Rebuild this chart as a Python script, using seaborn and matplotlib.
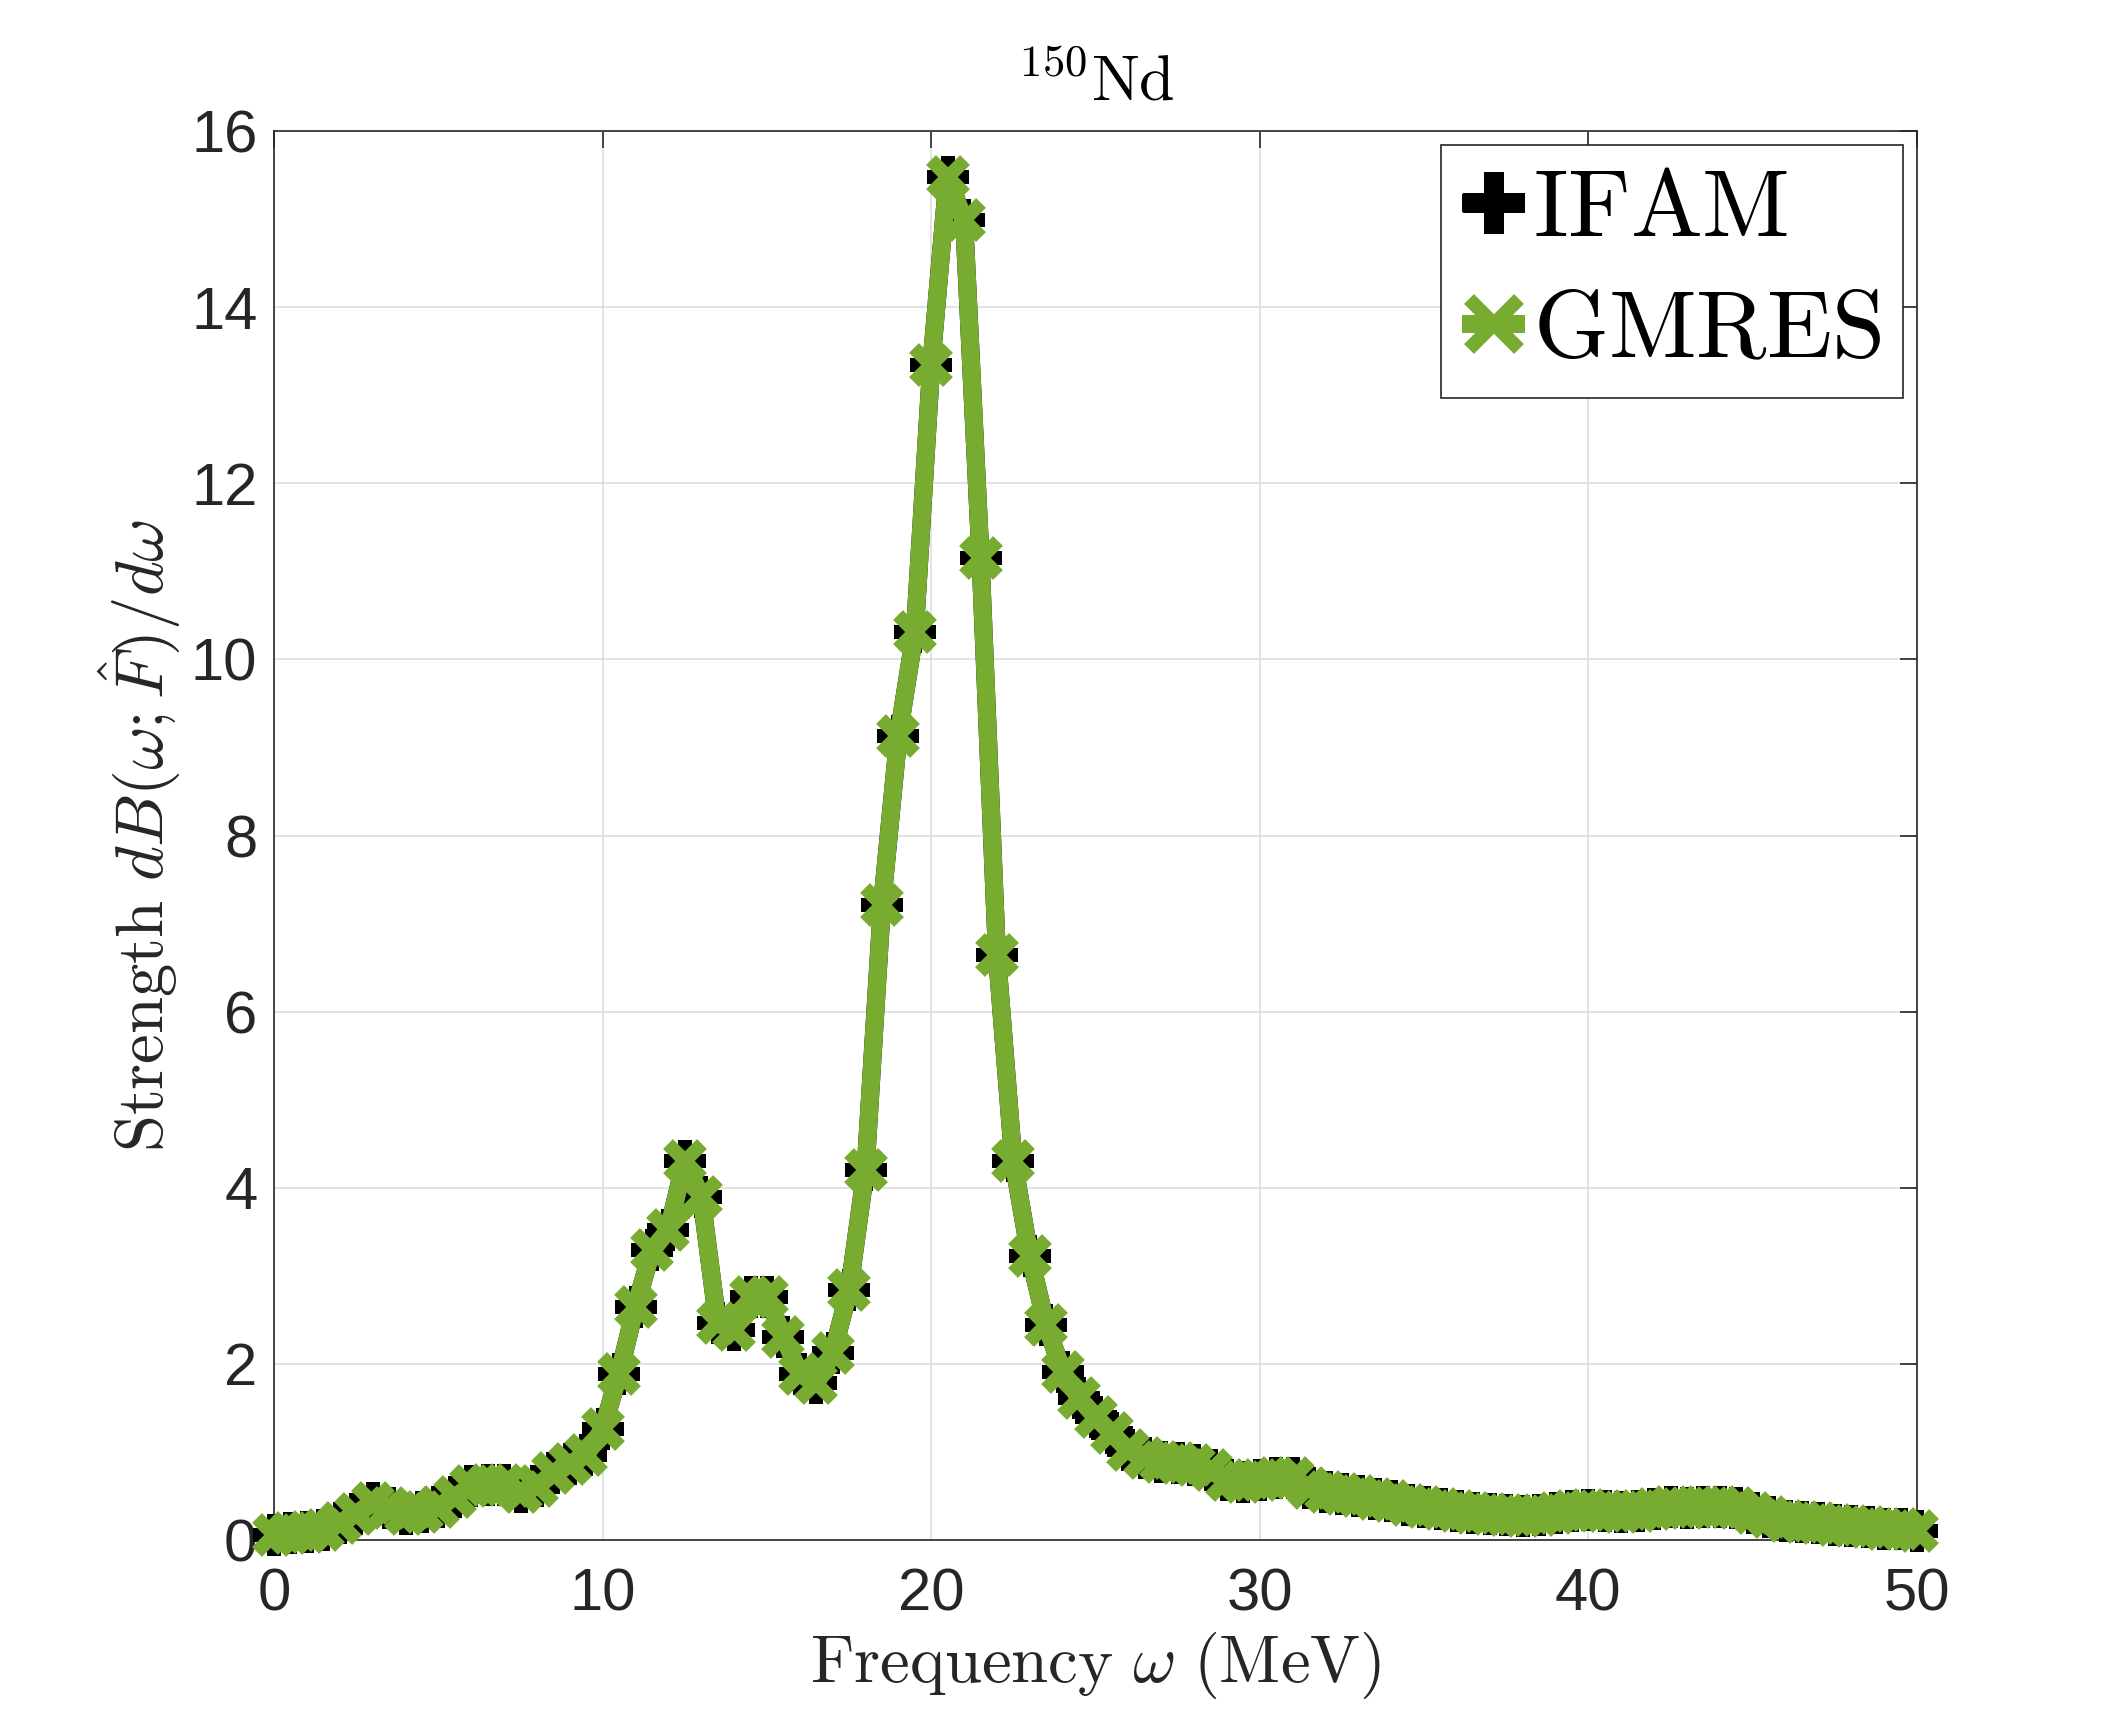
import numpy as np
import matplotlib
matplotlib.use("Agg")
import matplotlib.pyplot as plt
import seaborn as sns

# frequency grid (MeV), 0.5 MeV steps
freq = np.arange(0, 50.5, 0.5)

# strength dB/dw
ifam = [0.06, 0.08, 0.09, 0.11, 0.19, 0.30, 0.42, 0.36, 0.30, 0.32,
        0.38, 0.49, 0.61, 0.62, 0.62, 0.55, 0.61, 0.76, 0.86, 0.97,
        1.26, 1.89, 2.65, 3.29, 3.52, 4.30, 3.90, 2.46, 2.38, 2.76,
        2.76, 2.31, 1.89, 1.78, 2.12, 2.84, 4.20, 7.21, 9.13, 10.31,
        13.34, 15.48, 14.99, 11.15, 6.64, 4.30, 3.22, 2.44, 1.91, 1.61,
        1.40, 1.21, 1.02, 0.93, 0.89, 0.87, 0.85, 0.79, 0.68, 0.66,
        0.68, 0.70, 0.70, 0.59, 0.55, 0.52, 0.50, 0.47, 0.44, 0.40,
        0.37, 0.35, 0.33, 0.31, 0.30, 0.28, 0.27, 0.28, 0.31, 0.33,
        0.34, 0.33, 0.32, 0.33, 0.35, 0.37, 0.36, 0.37, 0.38, 0.36,
        0.31, 0.26, 0.22, 0.20, 0.19, 0.17, 0.16, 0.15, 0.13, 0.12,
        0.10]
# GMRES agrees with IFAM to plotting accuracy
gmres = list(ifam)

x_ticks = [0, 10, 20, 30, 40, 50]
y_ticks = [0, 2, 4, 6, 8, 10, 12, 14, 16]

sns.set_style("white")
plt.rcParams['font.family'] = ['Liberation Sans', 'DejaVu Sans']
plt.rcParams['mathtext.fontset'] = 'cm'

green = '#77AC30'
dark = '#262626'

fig = plt.figure(figsize=(21.18, 17.30), dpi=100)
ax = fig.add_axes([0.1294, 0.1098, 0.9051 - 0.1294, 0.9243 - 0.1098])

sns.lineplot(x=freq, y=ifam, ax=ax, color='black', lw=13, marker='P',
             markersize=30, markeredgewidth=0, label=r'$\mathrm{IFAM}$',
             clip_on=False, zorder=3, solid_capstyle='butt')
sns.lineplot(x=freq, y=gmres, ax=ax, color=green, lw=13, marker='x',
             markersize=24, markeredgewidth=10, markeredgecolor=green,
             label=r'$\mathrm{GMRES}$', clip_on=False, zorder=4,
             solid_capstyle='butt')

ax.set_xlim(0, 50)
ax.set_ylim(0, 16)
ax.set_xticks(x_ticks)
ax.set_yticks(y_ticks)
ax.grid(True, color='#dedede', lw=1.2)
ax.set_axisbelow(True)

for s in ax.spines.values():
    s.set_color(dark)
    s.set_linewidth(1.2)
ax.tick_params(direction='in', length=12, width=1.2, color=dark,
               labelcolor=dark, labelsize=43, top=True, right=True)
ax.tick_params(axis='x', pad=20)
ax.tick_params(axis='y', pad=12)

ax.set_xlabel(r'$\mathrm{Frequency}\ \omega\ (\mathrm{MeV})$', fontsize=48,
              labelpad=5, color=dark)
ax.set_ylabel(r'$\mathrm{Strength}\ dB(\omega;\hat{F})/d\omega$', fontsize=48,
              labelpad=6, color=dark)
ax.set_title(r'$^{150}\mathrm{Nd}$', fontsize=46, pad=22, color='black')

leg = ax.legend(loc='upper right', fontsize=69, frameon=True, fancybox=False,
                edgecolor=dark, framealpha=1, handlelength=0.66,
                handletextpad=0.08, borderpad=0.22, borderaxespad=0.15,
                labelspacing=0.32, markerscale=1.5, labelcolor='black')
leg.get_frame().set_linewidth(1.2)

fig.savefig('out.png', dpi=100)
